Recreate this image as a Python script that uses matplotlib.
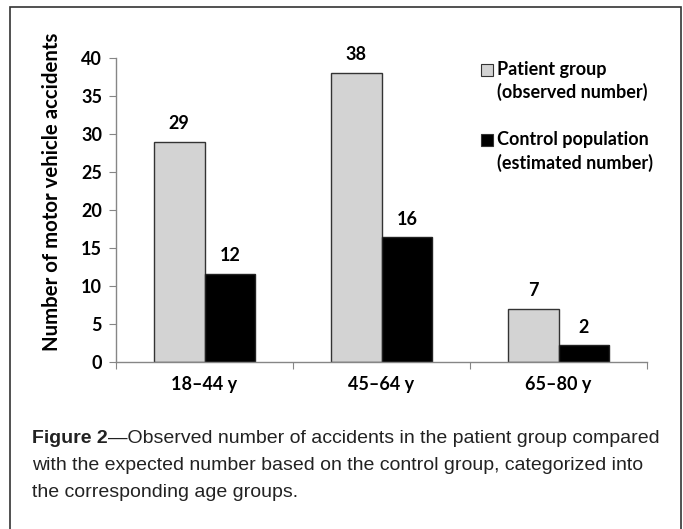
import matplotlib
matplotlib.use("Agg")
import matplotlib.pyplot as plt
from matplotlib import font_manager
from matplotlib.patches import Rectangle
import numpy as np

# Data
age_groups = ["18\u201344 y", "45\u201364 y", "65\u201380 y"]
observed = [29, 38, 7]          # patient group
estimated = [11.6, 16.4, 2.2]   # control population
legend_labels = [("Patient group", "(observed number)"),
                 ("Control population", "(estimated number)")]
y_ticks = [0, 5, 10, 15, 20, 25, 30, 35, 40]

W, H = 683, 529


def px(x, y):
    # pixel position (from top-left) -> figure fraction
    return x / W, 1 - y / H


installed = {f.name for f in font_manager.fontManager.ttflist}
chart_font = "Lato" if "Lato" in installed else "DejaVu Sans"
cap_font = "Liberation Sans Narrow" if "Liberation Sans Narrow" in installed else "Liberation Sans"

plt.rcParams["font.family"] = [chart_font, "DejaVu Sans"]
fs = 13

fig = plt.figure(figsize=(W / 100, H / 100), dpi=100)

# outer frame (open at the bottom)
fig.add_artist(Rectangle(px(10, 560), (681 - 10) / W, (560 - 7) / H,
                         transform=fig.transFigure, fill=False,
                         edgecolor="#333333", linewidth=1.2, clip_on=False))

x0, ytop = px(116, 58)
x1, ybot = px(647, 362)
ax = fig.add_axes([x0, ybot, x1 - x0, ytop - ybot])

x = np.arange(len(age_groups))
width = 0.288
bars1 = ax.bar(x - width / 2, observed, width, color="#d3d3d3",
               edgecolor="#333333", linewidth=1.0)
bars2 = ax.bar(x + width / 2, estimated, width, color="black",
               edgecolor="#222222", linewidth=1.0)

for bars in (bars1, bars2):
    for b in bars:
        v = b.get_height()
        ax.annotate(f"{round(v)}", (b.get_x() + b.get_width() / 2, v),
                    xytext=(0, 7), textcoords="offset points",
                    ha="center", va="bottom", fontsize=fs,
                    fontweight="bold")

ax.set_xlim(-0.5, len(age_groups) - 0.5)
ax.set_ylim(0, 40)
ax.set_yticks(y_ticks)
ax.set_yticklabels([str(t) for t in y_ticks], fontsize=fs, fontweight="bold")
ax.set_xticks(np.arange(len(age_groups) + 1) - 0.5)
ax.set_xticklabels([])
ax.set_xticks(x, minor=True)
ax.set_xticklabels(age_groups, minor=True, fontsize=fs, fontweight="bold")
ax.tick_params(axis="x", which="minor", length=0, pad=10)
ax.tick_params(axis="x", which="major", length=5, color="#868686", direction="out")
ax.tick_params(axis="y", length=5, color="#868686", direction="out", pad=5)

for s in ("top", "right"):
    ax.spines[s].set_visible(False)
for s in ("left", "bottom"):
    ax.spines[s].set_color("#868686")
    ax.spines[s].set_linewidth(1.0)

fig.text(*px(52, 192), "Number of motor vehicle accidents", rotation=90,
         ha="center", va="center", fontsize=14.7, fontweight="bold")

# legend drawn by hand to keep the reference spacing
leg_rows = [(70, 92), (140, 163)]
leg_colors = ["#d3d3d3", "black"]
for (first, second), (ya, yb), c in zip(legend_labels, leg_rows, leg_colors):
    sx, sy = px(481, ya + 6)
    fig.add_artist(Rectangle((sx, sy), 12 / W, 12 / H, transform=fig.transFigure,
                             facecolor=c, edgecolor="#333333", linewidth=0.8))
    fig.text(*px(497, ya), first, ha="left", va="center",
             fontsize=fs, fontweight="bold")
    fig.text(*px(497, yb), second, ha="left", va="center",
             fontsize=fs, fontweight="bold")

# caption
cap_kw = dict(fontsize=14, family=[cap_font, "DejaVu Sans"], color="#222222")
t1 = fig.text(*px(32, 443), "Figure 2", ha="left", va="baseline",
              fontweight="bold", **cap_kw)
ax.annotate("\u2014Observed number of accidents in the patient group compared",
            xy=(1, 0), xycoords=t1, ha="left", va="bottom", annotation_clip=False,
            **cap_kw)
fig.text(*px(32, 470), "with the expected number based on the control group, categorized into",
         ha="left", va="baseline", **cap_kw)
fig.text(*px(32, 497), "the corresponding age groups.",
         ha="left", va="baseline", **cap_kw)

fig.savefig("out.png", dpi=100)
